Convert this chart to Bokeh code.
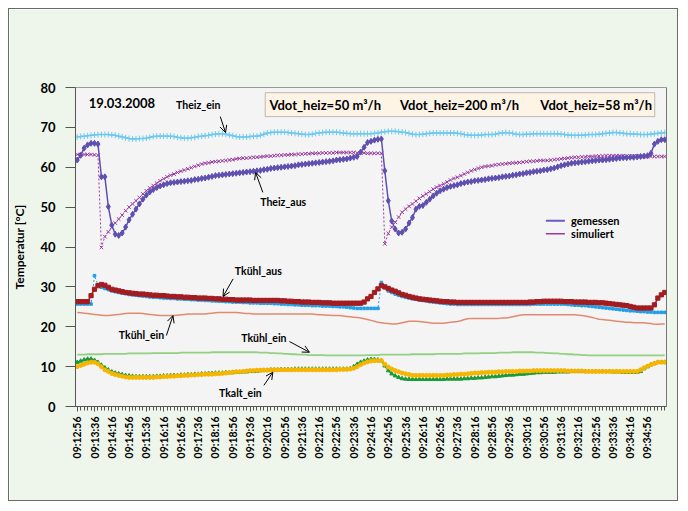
import math
from bokeh.plotting import figure
from bokeh.models import (Range1d, FixedTicker, Label, Arrow, OpenHead, BoxAnnotation, Span)
from bokeh.embed import file_html
from bokeh.resources import INLINE

# ---------------- data ----------------
# category index (one sample every 8 s, starting 09:12:56)
idx = list(range(171))

tick_labels = ["09:12:56", "09:13:36", "09:14:16", "09:14:56", "09:15:36", "09:16:16",
               "09:16:56", "09:17:36", "09:18:16", "09:18:56", "09:19:36", "09:20:16",
               "09:20:56", "09:21:36", "09:22:16", "09:22:56", "09:23:36", "09:24:16",
               "09:24:56", "09:25:36", "09:26:16", "09:26:56", "09:27:36", "09:28:16",
               "09:28:56", "09:29:36", "09:30:16", "09:30:56", "09:31:36", "09:32:16",
               "09:32:56", "09:33:36", "09:34:16", "09:34:56"]

y_ticks = [0, 10, 20, 30, 40, 50, 60, 70, 80]

theiz_ein = [
    67.6, 67.7, 67.8, 67.9, 68.0, 68.1, 68.2, 68.2, 68.2, 68.2,
    68.1, 68.0, 67.8, 67.6, 67.4, 67.2, 67.1, 67.1, 67.2, 67.2,
    67.3, 67.5, 67.7, 67.8, 67.8, 67.8, 67.8, 67.8, 67.7, 67.5,
    67.4, 67.3, 67.3, 67.4, 67.5, 67.7, 67.8, 67.9, 68.0, 68.2,
    68.3, 68.4, 68.4, 68.3, 68.1, 67.9, 67.7, 67.6, 67.6, 67.6,
    67.7, 67.8, 67.8, 68.0, 68.3, 68.6, 68.7, 68.8, 68.8, 68.8,
    68.8, 68.7, 68.6, 68.5, 68.4, 68.3, 68.2, 68.2, 68.3, 68.5,
    68.6, 68.7, 68.8, 68.8, 68.8, 68.8, 68.7, 68.6, 68.5, 68.4,
    68.4, 68.4, 68.4, 68.4, 68.4, 68.4, 68.5, 68.6, 68.8, 68.9,
    69.0, 69.0, 69.0, 68.9, 68.8, 68.7, 68.5, 68.3, 68.2, 68.2,
    68.3, 68.4, 68.5, 68.6, 68.6, 68.6, 68.6, 68.6, 68.6, 68.6,
    68.5, 68.4, 68.2, 68.1, 68.0, 68.0, 68.0, 68.1, 68.2, 68.2,
    68.2, 68.3, 68.5, 68.6, 68.7, 68.6, 68.5, 68.3, 68.2, 68.2,
    68.3, 68.3, 68.4, 68.4, 68.4, 68.4, 68.4, 68.4, 68.4, 68.4,
    68.3, 68.2, 68.1, 68.0, 68.0, 68.0, 68.0, 68.1, 68.2, 68.2,
    68.2, 68.3, 68.4, 68.5, 68.6, 68.7, 68.7, 68.6, 68.5, 68.4,
    68.4, 68.3, 68.3, 68.2, 68.2, 68.2, 68.3, 68.4, 68.5, 68.6, 68.7]

theiz_aus_gem = [
    61.8, 63.0, 64.8, 65.6, 66.0, 66.0, 65.8, 57.6, 57.6, 50.1,
    45.5, 43.2, 42.9, 43.5, 45.0, 46.8, 48.2, 49.5, 50.8, 52.0,
    53.0, 53.8, 54.4, 54.9, 55.3, 55.6, 55.9, 56.1, 56.2, 56.3,
    56.4, 56.5, 56.6, 56.7, 56.9, 57.0, 57.2, 57.3, 57.5, 57.7,
    57.9, 58.0, 58.1, 58.2, 58.3, 58.4, 58.5, 58.6, 58.7, 58.8,
    58.9, 59.0, 59.1, 59.2, 59.4, 59.5, 59.7, 59.8, 59.9, 60.0,
    60.1, 60.2, 60.3, 60.4, 60.6, 60.7, 60.8, 60.9, 61.0, 61.1,
    61.2, 61.3, 61.4, 61.5, 61.6, 61.8, 61.9, 62.0, 62.1, 62.3,
    62.5, 62.7, 63.8, 65.0, 66.2, 66.5, 66.8, 67.0, 67.1, 59.1,
    51.6, 46.5, 44.5, 43.5, 43.7, 44.5, 46.0, 47.4, 49.5, 50.2,
    50.4, 51.2, 52.0, 52.8, 53.5, 54.1, 54.5, 54.9, 55.2, 55.4,
    55.6, 55.9, 56.1, 56.3, 56.4, 56.6, 56.7, 56.8, 56.9, 57.1,
    57.2, 57.3, 57.4, 57.6, 57.7, 57.8, 58.0, 58.1, 58.3, 58.4,
    58.6, 58.7, 58.9, 59.0, 59.1, 59.3, 59.4, 59.6, 59.8, 60.1,
    60.4, 60.6, 60.8, 61.0, 61.1, 61.2, 61.3, 61.4, 61.5, 61.6,
    61.7, 61.8, 61.8, 61.9, 62.0, 62.1, 62.2, 62.3, 62.4, 62.4,
    62.5, 62.5, 62.6, 62.7, 62.8, 62.9, 63.5, 65.8, 66.5, 66.9, 66.9]

theiz_aus_sim = [
    63.2, 63.2, 63.2, 63.2, 63.2, 63.1, 63.0, 39.9, 42.6, 43.8,
    44.9, 46.0, 47.0, 48.0, 49.1, 50.0, 50.8, 51.6, 52.4, 53.3,
    54.1, 54.8, 55.4, 56.0, 56.6, 57.1, 57.6, 58.0, 58.3, 58.7,
    59.0, 59.3, 59.6, 59.9, 60.2, 60.5, 60.8, 61.0, 61.1, 61.3,
    61.4, 61.5, 61.6, 61.7, 61.8, 61.9, 62.1, 62.2, 62.3, 62.3,
    62.4, 62.5, 62.5, 62.6, 62.7, 62.8, 62.8, 62.9, 63.0, 63.0,
    63.1, 63.1, 63.2, 63.2, 63.3, 63.3, 63.4, 63.4, 63.5, 63.5,
    63.5, 63.6, 63.6, 63.6, 63.6, 63.7, 63.7, 63.7, 63.7, 63.7,
    63.7, 63.6, 63.6, 63.6, 63.5, 63.5, 63.5, 63.5, 63.5, 40.8,
    43.4, 45.0, 46.2, 47.5, 48.7, 49.5, 50.2, 50.8, 51.5, 52.2,
    52.8, 53.3, 53.9, 54.5, 55.0, 55.4, 55.8, 56.3, 56.8, 57.2,
    57.5, 57.9, 58.3, 58.7, 59.1, 59.4, 59.7, 60.0, 60.2, 60.3,
    60.4, 60.6, 60.7, 60.8, 60.9, 61.0, 61.1, 61.1, 61.2, 61.3,
    61.4, 61.5, 61.5, 61.6, 61.7, 61.7, 61.7, 61.8, 61.9, 62.0,
    62.1, 62.2, 62.3, 62.4, 62.5, 62.5, 62.6, 62.6, 62.7, 62.7,
    62.8, 62.8, 62.8, 62.9, 62.9, 62.9, 62.9, 62.9, 62.9, 62.8,
    62.8, 62.8, 62.8, 62.7, 62.7, 62.7, 62.7, 62.7, 62.7, 62.7, 62.7]

tkuehl_aus_gem = [
    26.3, 26.3, 26.3, 26.3, 27.8, 29.4, 30.3, 30.6, 30.4, 29.9,
    29.4, 29.2, 29.0, 28.8, 28.6, 28.5, 28.4, 28.3, 28.2, 28.2,
    28.1, 28.0, 27.9, 27.9, 27.8, 27.8, 27.7, 27.6, 27.6, 27.5,
    27.5, 27.4, 27.4, 27.3, 27.3, 27.2, 27.2, 27.2, 27.1, 27.1,
    27.0, 27.0, 26.9, 26.9, 26.8, 26.8, 26.7, 26.7, 26.7, 26.7,
    26.7, 26.6, 26.6, 26.6, 26.6, 26.6, 26.6, 26.6, 26.6, 26.5,
    26.5, 26.4, 26.4, 26.3, 26.3, 26.2, 26.2, 26.2, 26.1, 26.1,
    26.1, 26.0, 26.0, 26.0, 25.9, 25.9, 25.9, 25.9, 25.9, 25.9,
    25.9, 25.9, 25.9, 26.2, 27.0, 27.6, 28.6, 29.5, 30.3, 30.0,
    29.6, 29.2, 28.9, 28.5, 28.1, 27.9, 27.6, 27.4, 27.2, 27.0,
    26.9, 26.8, 26.7, 26.6, 26.5, 26.4, 26.3, 26.3, 26.2, 26.2,
    26.1, 26.1, 26.1, 26.1, 26.1, 26.1, 26.1, 26.1, 26.1, 26.1,
    26.1, 26.1, 26.1, 26.1, 26.1, 26.1, 26.1, 26.1, 26.1, 26.1,
    26.1, 26.2, 26.2, 26.3, 26.3, 26.4, 26.4, 26.4, 26.4, 26.4,
    26.4, 26.3, 26.3, 26.3, 26.2, 26.2, 26.2, 26.2, 26.1, 26.1,
    26.1, 26.0, 26.0, 25.9, 25.8, 25.7, 25.6, 25.5, 25.4, 25.3,
    25.1, 24.9, 24.7, 24.7, 24.7, 24.7, 24.7, 25.5, 27.2, 28.0, 28.6]

tkuehl_aus_sim = [
    25.7, 25.7, 25.7, 25.7, 25.7, 32.8, 30.5, 29.9, 29.6, 29.3,
    29.0, 28.8, 28.6, 28.4, 28.3, 28.1, 28.0, 27.9, 27.8, 27.7,
    27.6, 27.5, 27.4, 27.4, 27.3, 27.2, 27.2, 27.1, 27.1, 27.0,
    27.0, 26.9, 26.9, 26.8, 26.8, 26.7, 26.7, 26.6, 26.6, 26.5,
    26.5, 26.4, 26.4, 26.3, 26.3, 26.2, 26.2, 26.2, 26.1, 26.1,
    26.0, 26.0, 26.0, 25.9, 25.9, 25.9, 25.9, 25.8, 25.8, 25.7,
    25.7, 25.6, 25.6, 25.5, 25.5, 25.4, 25.4, 25.4, 25.3, 25.3,
    25.3, 25.2, 25.2, 25.2, 25.1, 25.1, 25.0, 25.0, 24.9, 24.8,
    24.7, 24.6, 24.6, 24.6, 24.6, 24.6, 24.6, 24.6, 31.1, 29.8,
    29.0, 28.6, 28.2, 27.9, 27.6, 27.4, 27.2, 27.0, 26.9, 26.7,
    26.6, 26.5, 26.3, 26.2, 26.1, 26.0, 25.9, 25.8, 25.7, 25.7,
    25.6, 25.6, 25.6, 25.6, 25.6, 25.6, 25.6, 25.6, 25.6, 25.6,
    25.6, 25.6, 25.6, 25.6, 25.6, 25.6, 25.6, 25.6, 25.6, 25.6,
    25.6, 25.6, 25.7, 25.7, 25.7, 25.7, 25.7, 25.7, 25.7, 25.7,
    25.7, 25.7, 25.6, 25.5, 25.4, 25.4, 25.3, 25.3, 25.2, 25.1,
    25.0, 24.9, 24.8, 24.7, 24.6, 24.5, 24.4, 24.3, 24.2, 24.1,
    24.0, 24.0, 23.9, 23.8, 23.8, 23.7, 23.7, 23.6, 23.6, 23.6, 23.6]

tkuehl_ein_sim = [
    23.6, 23.5, 23.4, 23.3, 23.2, 23.1, 23.0, 22.9, 22.8, 22.8,
    22.9, 23.0, 23.1, 23.2, 23.3, 23.4, 23.4, 23.4, 23.4, 23.3,
    23.2, 23.1, 23.0, 22.9, 22.8, 22.8, 22.8, 22.8, 22.8, 22.9,
    23.0, 23.1, 23.2, 23.2, 23.2, 23.2, 23.2, 23.2, 23.3, 23.4,
    23.5, 23.6, 23.6, 23.6, 23.6, 23.6, 23.6, 23.5, 23.4, 23.3,
    23.3, 23.2, 23.2, 23.2, 23.2, 23.2, 23.2, 23.2, 23.2, 23.2,
    23.2, 23.2, 23.2, 23.2, 23.2, 23.2, 23.2, 23.2, 23.2, 23.1,
    23.0, 23.0, 22.9, 22.9, 22.8, 22.8, 22.8, 22.7, 22.6, 22.5,
    22.4, 22.3, 22.2, 22.0, 21.8, 21.6, 21.4, 21.1, 21.0, 20.9,
    20.8, 20.7, 20.7, 20.8, 21.0, 21.2, 21.4, 21.4, 21.4, 21.3,
    21.2, 21.1, 21.0, 20.9, 20.9, 20.9, 20.9, 21.0, 21.1, 21.2,
    21.3, 21.5, 21.8, 22.0, 22.1, 22.1, 22.1, 22.1, 22.1, 22.1,
    22.1, 22.1, 22.1, 22.2, 22.2, 22.3, 22.5, 22.7, 22.9, 23.0,
    23.0, 23.0, 23.0, 23.0, 23.0, 23.0, 23.0, 23.0, 23.0, 23.0,
    23.0, 23.0, 23.0, 23.0, 23.0, 22.9, 22.8, 22.7, 22.5, 22.3,
    22.1, 21.9, 21.8, 21.7, 21.6, 21.5, 21.4, 21.3, 21.2, 21.1,
    21.1, 21.0, 21.0, 21.0, 21.0, 20.9, 20.8, 20.6, 20.6, 20.7, 20.7]

tkuehl_ein_gem = [
    13.0, 13.0, 13.0, 13.1, 13.1, 13.1, 13.1, 13.1, 13.2, 13.2,
    13.2, 13.2, 13.2, 13.2, 13.2, 13.3, 13.3, 13.3, 13.3, 13.3,
    13.3, 13.3, 13.4, 13.4, 13.4, 13.4, 13.4, 13.4, 13.4, 13.4,
    13.5, 13.5, 13.5, 13.5, 13.5, 13.5, 13.5, 13.5, 13.5, 13.6,
    13.6, 13.6, 13.6, 13.6, 13.6, 13.6, 13.6, 13.6, 13.6, 13.6,
    13.6, 13.6, 13.6, 13.5, 13.5, 13.5, 13.4, 13.4, 13.3, 13.3,
    13.2, 13.2, 13.1, 13.1, 13.0, 13.0, 13.0, 12.9, 12.9, 12.9,
    12.9, 12.9, 12.8, 12.8, 12.8, 12.8, 12.8, 12.8, 12.8, 12.8,
    12.8, 12.8, 12.8, 12.8, 12.9, 12.9, 12.9, 12.9, 13.0, 13.0,
    13.0, 13.0, 13.0, 13.0, 13.0, 13.0, 13.0, 13.1, 13.1, 13.1,
    13.1, 13.1, 13.1, 13.1, 13.2, 13.2, 13.2, 13.2, 13.2, 13.2,
    13.2, 13.2, 13.3, 13.3, 13.3, 13.3, 13.3, 13.4, 13.4, 13.4,
    13.4, 13.4, 13.5, 13.5, 13.5, 13.5, 13.6, 13.6, 13.6, 13.6,
    13.6, 13.6, 13.6, 13.5, 13.5, 13.5, 13.4, 13.4, 13.3, 13.3,
    13.2, 13.2, 13.1, 13.1, 13.0, 13.0, 12.9, 12.9, 12.8, 12.8,
    12.8, 12.8, 12.8, 12.8, 12.8, 12.8, 12.8, 12.8, 12.8, 12.8,
    12.8, 12.8, 12.8, 12.8, 12.8, 12.8, 12.8, 12.8, 12.8, 12.8, 12.8]

tkalt_ein_gem = [
    11.1, 11.4, 11.7, 11.9, 11.9, 11.6, 11.1, 10.4, 9.7, 9.2,
    8.7, 8.4, 8.2, 8.0, 7.8, 7.7, 7.6, 7.5, 7.5, 7.5,
    7.5, 7.5, 7.5, 7.6, 7.6, 7.7, 7.7, 7.8, 7.8, 7.8,
    7.9, 7.9, 8.0, 8.0, 8.1, 8.1, 8.2, 8.2, 8.3, 8.3,
    8.4, 8.4, 8.4, 8.5, 8.5, 8.5, 8.6, 8.6, 8.7, 8.7,
    8.8, 8.8, 8.9, 9.0, 9.1, 9.1, 9.2, 9.2, 9.2, 9.3,
    9.3, 9.3, 9.3, 9.4, 9.4, 9.4, 9.4, 9.4, 9.4, 9.4,
    9.4, 9.4, 9.4, 9.4, 9.4, 9.4, 9.4, 9.4, 9.4, 9.5,
    10.0, 10.6, 11.1, 11.4, 11.7, 11.8, 11.8, 11.7, 11.5, 10.2,
    9.0, 8.2, 7.7, 7.3, 7.0, 6.9, 6.8, 6.8, 6.8, 6.8,
    6.8, 6.8, 6.8, 6.8, 6.8, 6.8, 6.8, 6.9, 6.9, 6.9,
    6.9, 6.9, 7.0, 7.0, 7.1, 7.1, 7.2, 7.2, 7.3, 7.4,
    7.5, 7.5, 7.6, 7.7, 7.8, 7.9, 7.9, 8.0, 8.1, 8.1,
    8.2, 8.3, 8.4, 8.5, 8.5, 8.6, 8.6, 8.6, 8.6, 8.7,
    8.7, 8.7, 8.7, 8.8, 8.8, 8.8, 8.8, 8.8, 8.8, 8.8,
    8.8, 8.8, 8.8, 8.8, 8.8, 8.7, 8.7, 8.7, 8.6, 8.6,
    8.6, 8.6, 8.6, 8.8, 9.5, 10.0, 10.5, 10.8, 11.1, 11.1, 11.1]

tkalt_ein_sim = [
    10.0, 10.3, 10.6, 10.9, 11.1, 11.1, 10.7, 10.0, 9.2, 8.8,
    8.3, 8.0, 7.8, 7.6, 7.4, 7.3, 7.3, 7.3, 7.3, 7.3,
    7.3, 7.3, 7.3, 7.4, 7.4, 7.5, 7.5, 7.6, 7.6, 7.7,
    7.7, 7.8, 7.8, 7.9, 7.9, 8.0, 8.0, 8.1, 8.1, 8.1,
    8.2, 8.2, 8.3, 8.4, 8.5, 8.6, 8.7, 8.7, 8.8, 8.9,
    9.0, 9.0, 9.1, 9.1, 9.1, 9.1, 9.2, 9.2, 9.2, 9.2,
    9.2, 9.2, 9.2, 9.2, 9.2, 9.2, 9.2, 9.2, 9.2, 9.2,
    9.2, 9.2, 9.2, 9.2, 9.2, 9.2, 9.3, 9.3, 9.3, 9.4,
    9.6, 10.0, 10.5, 10.9, 11.2, 11.4, 11.5, 11.5, 11.5, 10.6,
    9.9, 9.4, 9.0, 8.7, 8.4, 8.2, 8.0, 7.8, 7.8, 7.8,
    7.8, 7.8, 7.8, 7.8, 7.8, 7.8, 7.8, 7.9, 7.9, 8.0,
    8.0, 8.1, 8.1, 8.2, 8.3, 8.4, 8.4, 8.5, 8.5, 8.6,
    8.6, 8.6, 8.7, 8.7, 8.8, 8.8, 8.8, 8.8, 8.9, 8.9,
    8.9, 8.9, 9.0, 9.0, 9.0, 9.0, 9.0, 9.0, 9.0, 9.0,
    9.0, 9.0, 8.9, 8.9, 8.9, 8.9, 8.9, 8.8, 8.8, 8.8,
    8.8, 8.8, 8.8, 8.8, 8.8, 8.8, 8.8, 8.8, 8.8, 8.8,
    8.8, 8.8, 8.8, 9.2, 9.7, 10.1, 10.5, 10.8, 11.1, 11.1, 11.1]

# ---------------- styling ----------------
FONT = "Lato"
C_THEIZ_EIN = "#6cc9f0"
C_GEM = "#5f4fb0"
C_SIM = "#9a3aa0"
C_RED = "#a31c20"
C_BLUE = "#1f9fe6"
C_SALMON = "#e08a70"
C_LGREEN = "#92d084"
C_GREEN = "#1c9a38"
C_GOLD = "#f5b500"

p = figure(width=670, height=493, output_backend="svg", toolbar_location=None,
           x_range=Range1d(-0.5, 170.5), y_range=Range1d(0, 80))
p.styles = {"border": "1px solid #6a6a6a", "margin-left": "8px", "margin-top": "8px"}
p.min_border_left = 65
p.min_border_right = 13
p.min_border_top = 78
p.min_border_bottom = 96
p.background_fill_color = "#f4f4f4"
p.border_fill_color = "#eef5ea"
p.outline_line_color = "#9a9a9a"
p.grid.visible = False

# axes
p.yaxis.ticker = FixedTicker(ticks=y_ticks)
p.yaxis.major_tick_out = 10
p.yaxis.major_tick_in = 0
p.yaxis.minor_tick_out = 0
p.yaxis.minor_tick_in = 0
p.yaxis.major_label_standoff = 10
p.yaxis.major_label_text_font = FONT
p.yaxis.major_label_text_font_style = "bold"
p.yaxis.major_label_text_font_size = "13px"
p.yaxis.major_label_text_color = "#000000"
p.yaxis.axis_label = "Temperatur [°C]"
p.yaxis.axis_label_text_font = FONT
p.yaxis.axis_label_text_font_style = "bold"
p.yaxis.axis_label_text_font_size = "12px"
p.yaxis.axis_label_text_color = "#000000"
p.yaxis.axis_label_standoff = 10
p.yaxis.axis_line_color = "#555555"
p.yaxis.major_tick_line_color = "#555555"

major_pos = list(range(0, 170, 5))
p.xaxis.ticker = FixedTicker(ticks=major_pos, minor_ticks=idx)
p.xaxis.major_label_overrides = {pos: lab for pos, lab in zip(major_pos, tick_labels)}
p.xaxis.major_label_orientation = math.pi / 2
p.xaxis.major_tick_out = 5
p.xaxis.major_tick_in = 0
p.xaxis.minor_tick_out = 4
p.xaxis.minor_tick_in = 0
p.xaxis.major_label_standoff = 5
p.xaxis.major_label_text_font = FONT
p.xaxis.major_label_text_font_style = "bold"
p.xaxis.major_label_text_font_size = "10.5px"
p.xaxis.major_label_text_color = "#000000"
p.xaxis.axis_line_color = "#555555"
p.xaxis.major_tick_line_color = "#555555"
p.xaxis.minor_tick_line_color = "#555555"

p.add_layout(Span(location=170.5, dimension="height", line_color="#555555", line_width=1))

# ---------------- series ----------------
# Tkühl_ein (lines only)
p.line(idx, tkuehl_ein_sim, line_color=C_SALMON, line_width=1.5)
p.line(idx, tkuehl_ein_gem, line_color=C_LGREEN, line_width=1.8)

# Tkalt_ein
p.line(idx, tkalt_ein_gem, line_color=C_GREEN, line_width=1.5)
p.scatter(idx, tkalt_ein_gem, marker="triangle", size=4, color=C_GREEN)
p.line(idx, tkalt_ein_sim, line_color=C_GOLD, line_width=1, line_dash="2 2")
p.scatter(idx, tkalt_ein_sim, marker="circle", size=4, color=C_GOLD)

# Tkühl_aus
p.line(idx, tkuehl_aus_sim, line_color=C_BLUE, line_width=1, line_dash="2 2")
p.scatter(idx, tkuehl_aus_sim, marker="square", size=2.6, color=C_BLUE)
p.line(idx, tkuehl_aus_gem, line_color=C_RED, line_width=1.5)
p.scatter(idx, tkuehl_aus_gem, marker="square", size=4.2, color=C_RED)

# Theiz_ein
p.line(idx, theiz_ein, line_color=C_THEIZ_EIN, line_width=1.5)
p.scatter(idx, theiz_ein, marker="cross", size=6, line_color=C_THEIZ_EIN, line_width=1)

# Theiz_aus
p.line(idx, theiz_aus_sim, line_color=C_SIM, line_width=1, line_dash="2 2")
p.scatter(idx, theiz_aus_sim, marker="x", size=5, line_color=C_SIM, line_width=1)
p.line(idx, theiz_aus_gem, line_color=C_GEM, line_width=1.5)
p.scatter(idx, theiz_aus_gem, marker="diamond", size=6, color=C_GEM)

# ---------------- annotations ----------------
def lab(x, y, text, size="10.5px", align="center"):
    p.add_layout(Label(x=x, y=y, text=text, text_font=FONT, text_font_style="bold",
                       text_font_size=size, text_align=align, text_baseline="middle",
                       text_color="#000000"))

def arrow(x0, y0, x1, y1):
    p.add_layout(Arrow(end=OpenHead(size=7, line_width=1, line_color="#000000"),
                       x_start=x0, y_start=y0, x_end=x1, y_end=y1,
                       line_width=1, line_color="#000000"))

def seg(x0, x1, y, color, width):
    p.add_layout(Arrow(end=None, x_start=x0, y_start=y, x_end=x1, y_end=y,
                       line_width=width, line_color=color))

# legend (gemessen / simuliert)
seg(135.6, 141.1, 46.6, "#6a5acd", 2)
lab(142.9, 46.6, "gemessen", size="11px", align="left")
seg(135.6, 141.1, 43.3, C_SIM, 1.5)
lab(142.9, 43.3, "simuliert", size="11px", align="left")

lab(3.3, 76.1, "19.03.2008", size="13px", align="left")

p.add_layout(BoxAnnotation(left=54.4, right=167.1, bottom=72.7, top=78.7,
                           fill_color="#fdf4e6", fill_alpha=1,
                           line_color="#333333", line_width=1))
lab(55.6, 75.6, "Vdot_heiz=50 m³/h", size="13px", align="left")
lab(93.4, 75.6, "Vdot_heiz=200 m³/h", size="13px", align="left")
lab(134.0, 75.6, "Vdot_heiz=58 m³/h", size="13px", align="left")

lab(35.0, 75.5, "Theiz_ein")
arrow(41.4, 72.7, 42.9, 68.7)

lab(59.6, 51.4, "Theiz_aus")
arrow(53.7, 53.7, 51.6, 58.7)

lab(52.4, 33.9, "Tkühl_aus")
arrow(45.1, 32.0, 42.2, 27.6)

lab(18.6, 18.0, "Tkühl_ein")
arrow(25.8, 17.8, 27.7, 22.8)

lab(54.0, 17.2, "Tkühl_ein")
arrow(61.4, 16.3, 67.2, 13.6)

lab(47.2, 3.3, "Tkalt_ein")
arrow(54.0, 5.3, 56.6, 8.6)

open("out.html", "w").write(file_html(p, INLINE))
